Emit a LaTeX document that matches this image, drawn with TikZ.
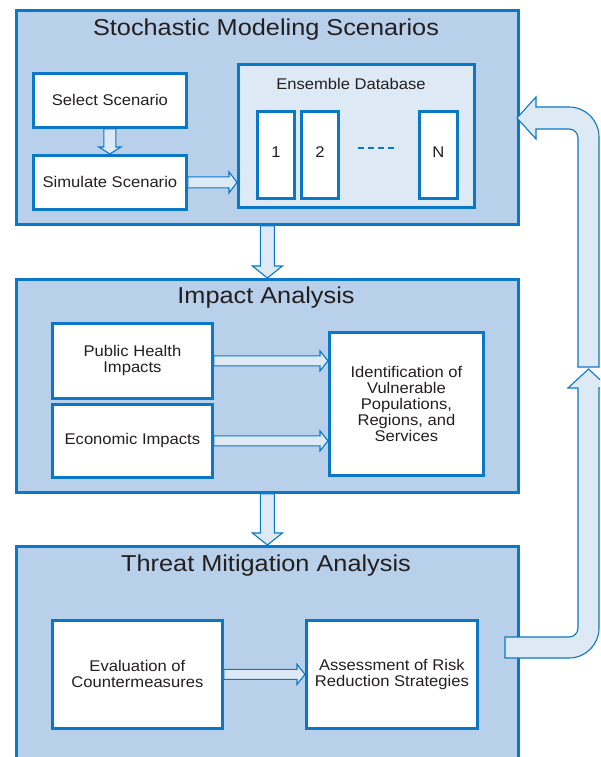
\documentclass[tikz,border=0pt]{standalone}
\usepackage{fontspec}
\setmainfont{Liberation Sans}[FakeStretch=1.07]
\newfontfamily\titlefont{Liberation Sans}[FakeStretch=1.1]
\usetikzlibrary{calc}
\definecolor{pfill}{HTML}{B9D0EA}
\definecolor{bline}{HTML}{0A78C6}
\definecolor{lfill}{HTML}{DEE9F6}
\definecolor{tcol}{HTML}{231F20}
\tikzset{
  panel/.style={draw=bline, fill=pfill, line width=2.8pt, inner sep=0pt, anchor=north west},
  wbox/.style={draw=bline, fill=white, line width=2.8pt, inner sep=0pt, anchor=north west,
    font=\fontsize{15.5}{16}\selectfont, text=tcol, align=center},
  lbox/.style={wbox, fill=lfill},
  ptitle/.style={font=\titlefont\fontsize{23}{26}\selectfont, text=tcol, anchor=base, inner sep=0pt},
  btext/.style={font=\fontsize{15.5}{16}\selectfont, text=tcol, align=center, inner sep=0pt},
  barrow/.style={draw=bline, fill=lfill, line width=1.1pt, line join=miter},
  dashline/.style={draw=bline, line width=2.6pt, dash pattern=on 6pt off 4pt},
}
\newcommand{\harr}[5]{%
  \draw[barrow] let \p1=(#1), \p2=(#2) in
    (\x1,\y1+#3) -- (\x2-#5,\y1+#3) -- (\x2-#5,\y1+#4) -- (\x2,\y1)
    -- (\x2-#5,\y1-#4) -- (\x2-#5,\y1-#3) -- (\x1,\y1-#3) -- cycle;}
\newcommand{\varr}[5]{%
  \draw[barrow] let \p1=(#1), \p2=(#2) in
    (\x1-#3,\y1) -- (\x1-#3,\y2+#5) -- (\x1-#4,\y2+#5) -- (\x1,\y2)
    -- (\x1+#4,\y2+#5) -- (\x1+#3,\y2+#5) -- (\x1+#3,\y1) -- cycle;}
\begin{document}
\begin{tikzpicture}[x=1pt,y=-1pt]
\useasboundingbox (0,0) rectangle (600,757);
\clip (0,0) rectangle (600,757);
\fill[white] (0,0) rectangle (600,757);

% panels
\node[panel, minimum width=502pt, minimum height=214pt] (p1) at (15,9) {};
\node[panel, minimum width=502pt, minimum height=213pt] (p2) at (15,278) {};
\node[panel, minimum width=502pt, minimum height=230pt] (p3) at (15,545) {};

\node[ptitle] (t1) at (266,36) {Stochastic Modeling Scenarios};
\node[ptitle] (t2) at (266,303) {Impact Analysis};
\node[ptitle] (t3) at (266,571) {Threat Mitigation Analysis};

% panel 1 content
\node[wbox, minimum width=153pt, minimum height=54pt] (sel) at (32,72) {Select Scenario};
\node[wbox, minimum width=153pt, minimum height=54pt] (sim) at (32,154) {Simulate Scenario};
\node[lbox, minimum width=236pt, minimum height=143pt] (ens) at (237,63) {};
\node[btext] (enslabel) at (351,84) {Ensemble Database};
\node[wbox, minimum width=37pt, minimum height=87pt] (c1) at (256,110) {};
\node[wbox, minimum width=37pt, minimum height=87pt] (c2) at (300,110) {};
\node[wbox, minimum width=38pt, minimum height=87pt] (cN) at (418,110) {};
\node[btext] (n1) at ($(c1.center)+(0,-3)$) {1};
\node[btext] (n2) at ($(c2.center)+(0,-3)$) {2};
\node[btext] (nN) at ($(cN.center)+(0,-3)$) {N};
\coordinate (d1) at (358,148);
\coordinate (d2) at (398,148);
\draw[dashline] (d1) -- (d2);

\varr{sel.south}{sim.north}{6pt}{11pt}{7pt}
\harr{sim.east}{sim.east -| ens.west}{5.5pt}{10.5pt}{8pt}

% panel 2 content
\node[wbox, minimum width=160pt, minimum height=75pt] (ph) at (51,322) {Public Health\\Impacts};
\node[wbox, minimum width=160pt, minimum height=73pt] (ec) at (51,403) {Economic Impacts};
\node[wbox, minimum width=154pt, minimum height=143pt] (id) at (328,331)
  {Identification of\\Vulnerable\\Populations,\\Regions, and\\Services};
\harr{ph.east}{ph.east -| id.west}{5pt}{10pt}{8pt}
\harr{ec.east}{ec.east -| id.west}{5pt}{10pt}{8pt}

% panel 3 content
\node[wbox, minimum width=170pt, minimum height=108pt] (ev) at (51,619) {Evaluation of\\Countermeasures};
\node[wbox, minimum width=171pt, minimum height=108pt] (as) at (305,619) {Assessment of Risk\\Reduction Strategies};
\harr{ev.east}{ev.east -| as.west}{5pt}{10pt}{8pt}

% arrows between panels
\varr{p1.south}{p2.north}{7pt}{15pt}{12pt}
\varr{p2.south}{p3.north}{7pt}{15pt}{12pt}

% return arrow (two parts)
\draw[barrow] (505,637) -- (569,637) .. controls (574,637) and (578,633) .. (578,628)
  -- (578,388) -- (568,388) -- (588.5,369) -- (609,388) -- (599,388) -- (599,628)
  .. controls (599,644.6) and (585.6,658) .. (569,658) -- (505,658) -- cycle;
\draw[barrow] (578,367) -- (578,138) .. controls (578,133) and (574,129) .. (569,129)
  -- (536,129) -- (536,139) -- (517,118) -- (536,97) -- (536,107) -- (569,107)
  .. controls (585.6,107) and (599,120.4) .. (599,137) -- (599,367) -- cycle;
\end{tikzpicture}
\end{document}
